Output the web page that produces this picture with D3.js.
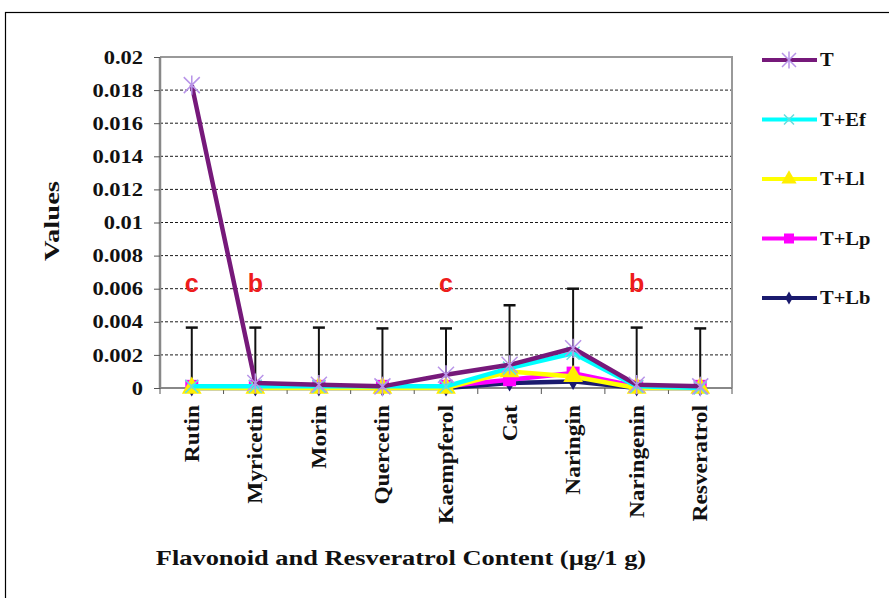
<!DOCTYPE html>
<html><head><meta charset="utf-8">
<script src="https://cdn.jsdelivr.net/npm/d3@7"></script>
<style>body{margin:0;background:#fff}svg{display:block}</style>
</head><body>
<script>
const categories = ["Rutin","Myricetin","Morin","Quercetin","Kaempferol","Cat","Naringin","Naringenin","Resveratrol"];
const seriesNames = ["T","T+Ef","T+Ll","T+Lp","T+Lb"];
const valT   = [0.0183,0.0003,0.0002,0.0001,0.0008,0.0014,0.0024,0.0002,0.0001];
const valEf  = [0.0001,0.0001,0.0001,0.0001,0.0001,0.0012,0.0021,0.0001,0.0000];
const valLl  = [0.0000,0.0000,0.0000,0.0000,0.0000,0.0010,0.0007,0.0000,0.0000];
const valLp  = [0.0001,0.0001,0.0001,0.0001,0.0001,0.0005,0.0009,0.0001,0.0001];
const valLb  = [0.0000,0.0000,0.0000,0.0000,0.0000,0.0003,0.0004,0.0000,0.0000];
const errTop = [0.00365,0.00365,0.00365,0.0036,0.0036,0.005,0.006,0.00365,0.0036];
const letters = ["c","b","","","c","","","b",""];
const yTicks = [0,0.002,0.004,0.006,0.008,0.01,0.012,0.014,0.016,0.018,0.02];

const W=889,H=598;
const svg=d3.select("body").append("svg").attr("width",W).attr("height",H);
svg.append("rect").attr("x",5.5).attr("y",12.5).attr("width",W).attr("height",H).attr("fill","#fff").attr("stroke","#000").attr("stroke-width",1.2);

const L=160,R=732,T=57,B=388;
const x=d3.scaleBand().domain(categories).range([L,R]);
const y=d3.scaleLinear().domain([0,0.02]).range([B,T]);
const serif="'Liberation Serif','Times New Roman',serif";

// gridlines
svg.append("g").selectAll("line").data(yTicks.filter(d=>d>0&&d<0.02)).join("line")
 .attr("x1",L).attr("x2",R).attr("y1",d=>y(d)).attr("y2",d=>y(d))
 .attr("stroke","#000").attr("stroke-width",0.9).attr("stroke-dasharray","3,2");
svg.append("path").attr("d",`M${L},${T}H${R}V${B}`).attr("fill","none").attr("stroke","#999").attr("stroke-width",2);

// y axis
const ya=svg.append("g").attr("transform",`translate(${L},0)`).call(d3.axisLeft(y).tickValues(yTicks).tickSize(6).tickFormat(d=>d===0?"0":String(+d.toFixed(3))));
ya.select(".domain").attr("stroke","#888").attr("stroke-width",2.5).attr("d",`M0,${T}V${B}`);
ya.selectAll(".tick line").attr("stroke","#555");
ya.selectAll(".tick text").attr("font-family",serif).attr("font-weight","bold").attr("font-size",18).attr("fill","#111")
  .attr("x",0).attr("dy","0.34em").attr("transform","translate(-17,0) scale(1.25,1)");

// x axis
const xa=svg.append("g").attr("transform",`translate(0,${B})`);
xa.append("line").attr("x1",L).attr("x2",R).attr("stroke","#888").attr("stroke-width",2);
const bounds=categories.map(c=>x(c)).concat([R]);
xa.selectAll("line.tk").data(bounds).join("line").attr("class","tk").attr("x1",d=>d).attr("x2",d=>d).attr("y1",0).attr("y2",6).attr("stroke","#555");
xa.selectAll("text").data(categories).join("text")
 .attr("transform",d=>`translate(${x(d)+x.bandwidth()/2+7},${17}) rotate(-90) scale(1.17,1)`)
 .attr("text-anchor","end").attr("font-family",serif).attr("font-weight","bold").attr("font-size",20).attr("fill","#111").text(d=>d);

// error bars
const eb=svg.append("g");
categories.forEach((c,i)=>{
  const cx=x(c)+x.bandwidth()/2;
  eb.append("line").attr("x1",cx).attr("x2",cx).attr("y1",y(valLb[i])).attr("y2",y(errTop[i])).attr("stroke","#111").attr("stroke-width",2);
  eb.append("line").attr("x1",cx-6).attr("x2",cx+6).attr("y1",y(errTop[i])).attr("y2",y(errTop[i])).attr("stroke","#111").attr("stroke-width",2.5);
});

const series=[
 {name:"T+Lb",vals:valLb,color:"#1a1a6e",marker:"diamond",mcolor:"#1a1a6e"},
 {name:"T+Lp",vals:valLp,color:"#ff00ff",marker:"square",mcolor:"#ff00ff"},
 {name:"T+Ll",vals:valLl,color:"#ffff00",marker:"triangle",mcolor:"#ffee00"},
 {name:"T+Ef",vals:valEf,color:"#00ffff",marker:"x",mcolor:"#66dddd"},
 {name:"T",vals:valT,color:"#76197a",marker:"star",mcolor:"#b894e8"}
];
const line=d3.line().x((d,i)=>x(categories[i])+x.bandwidth()/2).y(d=>y(d));
function drawMarker(g,type,cx,cy,col,s){
  if(type==="square") g.append("rect").attr("x",cx-s).attr("y",cy-s).attr("width",2*s).attr("height",2*s).attr("fill",col);
  else if(type==="triangle") g.append("path").attr("d",d3.symbol(d3.symbolTriangle,s*s*4)()).attr("transform",`translate(${cx},${cy})`).attr("fill",col);
  else if(type==="diamond") g.append("path").attr("d",d3.symbol(d3.symbolDiamond,s*s*2)()).attr("transform",`translate(${cx},${cy})`).attr("fill",col);
  else if(type==="x"){ g.append("path").attr("d",`M${cx-s},${cy-s}L${cx+s},${cy+s}M${cx-s},${cy+s}L${cx+s},${cy-s}`).attr("stroke",col).attr("stroke-width",1.5);}
  else if(type==="star"){ g.append("path").attr("d",`M${cx-s},${cy-s}L${cx+s},${cy+s}M${cx-s},${cy+s}L${cx+s},${cy-s}M${cx},${cy-s*1.2}V${cy+s*1.2}`).attr("stroke",col).attr("stroke-width",1.5);}
}
series.forEach(s=>{
  const g=svg.append("g");
  g.append("path").attr("d",line(s.vals)).attr("fill","none").attr("stroke",s.color).attr("stroke-width",4.5).attr("stroke-linejoin","round");
  s.vals.forEach((v,i)=>drawMarker(g,s.marker,x(categories[i])+x.bandwidth()/2,y(v),s.mcolor,s.marker==="star"?8:6.5));
});

// letters
svg.append("g").selectAll("text").data(letters.map((l,i)=>({l,c:categories[i]})).filter(d=>d.l)).join("text")
 .attr("x",d=>x(d.c)+x.bandwidth()/2).attr("y",y(0.006)+3).attr("text-anchor","middle")
 .attr("font-family","'Liberation Sans',Arial,sans-serif").attr("font-weight","bold").attr("font-size",25).attr("fill","#ee1c1c").text(d=>d.l);

// axis titles
svg.append("text").attr("transform","translate(59,221) rotate(-90) scale(1.3,1)").attr("text-anchor","middle")
 .attr("font-family",serif).attr("font-weight","bold").attr("font-size",22).attr("fill","#111").text("Values");
svg.append("text").attr("transform","translate(401,565) scale(1.2,1)").attr("text-anchor","middle")
 .attr("font-family",serif).attr("font-weight","bold").attr("font-size",22).attr("fill","#111").text("Flavonoid and Resveratrol Content (\u00b5g/1 g)");

// legend
const legend=[
 {name:"T",color:"#76197a",marker:"star",mcolor:"#b894e8"},
 {name:"T+Ef",color:"#00ffff",marker:"x",mcolor:"#66dddd"},
 {name:"T+Ll",color:"#ffff00",marker:"triangle",mcolor:"#ffee00"},
 {name:"T+Lp",color:"#ff00ff",marker:"square",mcolor:"#ff00ff"},
 {name:"T+Lb",color:"#1a1a6e",marker:"diamond",mcolor:"#1a1a6e"}
];
legend.forEach((s,i)=>{
  const ly=60+i*59.5;
  const g=svg.append("g");
  g.append("line").attr("x1",762).attr("x2",817).attr("y1",ly).attr("y2",ly).attr("stroke",s.color).attr("stroke-width",4);
  drawMarker(g,s.marker,789,ly,s.mcolor,s.marker==="star"?7:5);
  g.append("text").attr("transform",`translate(820,${ly+6}) scale(1.08,1)`).attr("font-family",serif).attr("font-weight","bold").attr("font-size",19).attr("fill","#111").text(s.name);
});
</script>
</body></html>
